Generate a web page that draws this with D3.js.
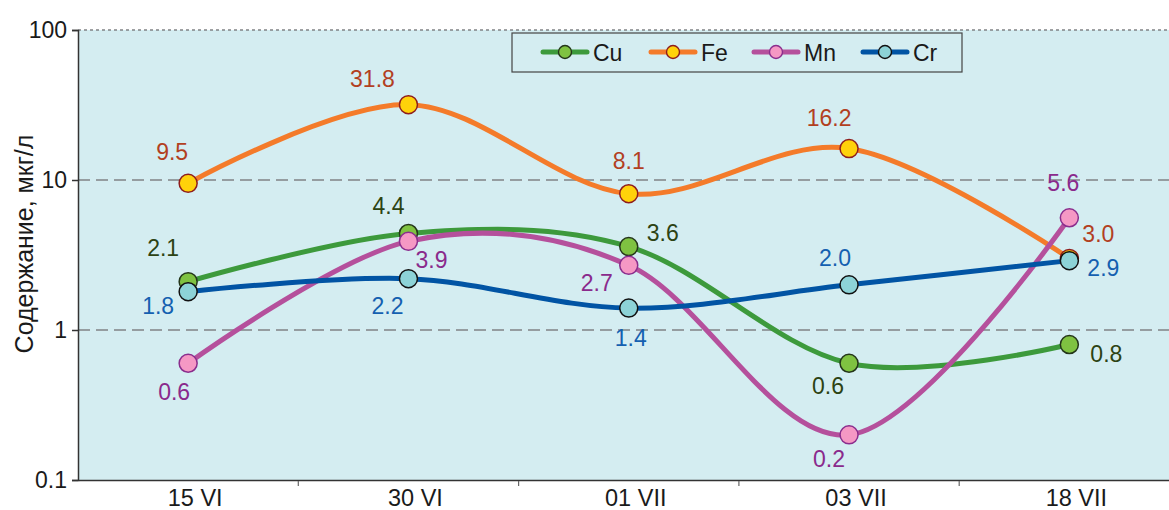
<!DOCTYPE html>
<html>
<head>
<meta charset="utf-8">
<script src="https://cdn.jsdelivr.net/npm/d3@7"></script>
<style>
  html, body { margin: 0; padding: 0; background: #ffffff; }
  svg { display: block; font-family: "Liberation Sans", Arial, sans-serif; }
</style>
</head>
<body>
<svg id="chart" width="1169" height="510"></svg>
<script>
// Sampling dates
const dates = ["15 VI", "30 VI", "01 VII", "03 VII", "18 VII"];

// Metal concentrations, µg/l
const cu = [2.1, 4.4, 3.6, 0.6, 0.8];
const fe = [9.5, 31.8, 8.1, 16.2, 3.0];
const mn = [0.6, 3.9, 2.7, 0.2, 5.6];
const cr = [1.8, 2.2, 1.4, 2.0, 2.9];

const yTicks = [0.1, 1, 10, 100];
const yTitle = "Содержание, мкг/л";

// Label offsets from each point (dx, dy) in px
const cuLabelPos = [[-25, -34], [-20, -27], [34, -14], [-21, 23], [37, 9]];
const feLabelPos = [[-16, -31], [-36, -26], [0, -33], [-20, -31], [29, -24]];
const mnLabelPos = [[-14, 29], [23, 19], [-32, 18], [-20, 24], [-6, -35]];
const crLabelPos = [[-30, 14], [-21, 27], [2, 30], [-14, -27], [34, 7]];

const series = [
  { name: "Cu", values: cu, line: "#3d9a3c", fill: "#7fc241", stroke: "#24361a", label: "#2c4313", pos: cuLabelPos },
  { name: "Fe", values: fe, line: "#f47b2a", fill: "#ffd20a", stroke: "#8e1d1d", label: "#b2401f", pos: feLabelPos },
  { name: "Mn", values: mn, line: "#b5509c", fill: "#f598c4", stroke: "#8a2d8d", label: "#8a2a8c", pos: mnLabelPos },
  { name: "Cr", values: cr, line: "#0154a4", fill: "#8dd3d7", stroke: "#111111", label: "#1460b0", pos: crLabelPos }
];

const svg = d3.select("#chart");
const plotLeft = 78, plotTop = 30, plotBottom = 480, band = 220.3;
const plotRight = 1169;
const textColor = "#1a1a1a";

const x = d3.scaleBand().domain(dates).range([plotLeft, plotLeft + band * dates.length]).paddingInner(0).paddingOuter(0);
const cx = d => x(d) + x.bandwidth() / 2;
const y = d3.scaleLog().domain([0.1, 100]).range([plotBottom, plotTop]);

// Plot background
svg.append("rect")
  .attr("x", plotLeft).attr("y", plotTop)
  .attr("width", plotRight - plotLeft).attr("height", plotBottom - plotTop)
  .attr("fill", "#d4edf1");

// Dashed decade gridlines
svg.append("g").selectAll("line")
  .data([1, 10, 100])
  .join("line")
  .attr("x1", plotLeft).attr("x2", plotRight)
  .attr("y1", d => y(d)).attr("y2", d => y(d))
  .attr("stroke", "#808285")
  .attr("stroke-width", 1.6)
  .attr("stroke-dasharray", d => d === 100 ? "3,3" : "12,6");

// Y axis
const yAxis = svg.append("g")
  .attr("transform", `translate(${plotLeft},0)`)
  .call(d3.axisLeft(y).tickValues(yTicks).tickFormat(d => String(d)).tickSize(6).tickPadding(5));
yAxis.select(".domain").attr("stroke", "#333").attr("stroke-width", 1.5);
yAxis.selectAll(".tick line").attr("stroke", "#333").attr("stroke-width", 1.5);
yAxis.selectAll(".tick text")
  .attr("font-size", 23).attr("fill", textColor)
  .attr("font-family", "Liberation Sans, Arial, sans-serif");

// X axis
const xAxis = svg.append("g")
  .attr("transform", `translate(0,${plotBottom})`)
  .call(d3.axisBottom(x).tickSize(0).tickPadding(9));
xAxis.select(".domain").attr("stroke", "#333").attr("stroke-width", 1.5);
xAxis.selectAll(".tick text")
  .attr("font-size", 23.5).attr("fill", textColor).attr("dx", 7)
  .attr("font-family", "Liberation Sans, Arial, sans-serif");

// Category boundary ticks
xAxis.selectAll(".sep")
  .data(dates.slice(1))
  .join("line")
  .attr("class", "sep")
  .attr("x1", d => x(d)).attr("x2", d => x(d))
  .attr("y1", 1).attr("y2", 6)
  .attr("stroke", "#666").attr("stroke-width", 1.2);

// Y axis title
svg.append("text")
  .attr("transform", `translate(24,244) rotate(-90)`)
  .attr("text-anchor", "middle")
  .attr("dominant-baseline", "central")
  .attr("font-size", 25)
  .attr("fill", textColor)
  .text(yTitle);

// Smoothed lines with markers
const line = d3.line()
  .x((d, i) => cx(dates[i]))
  .y(d => y(d))
  .curve(d3.curveCardinal.tension(0));

series.forEach(s => {
  const g = svg.append("g");
  g.append("path")
    .datum(s.values)
    .attr("d", line)
    .attr("fill", "none")
    .attr("stroke", s.line)
    .attr("stroke-width", 5)
    .attr("stroke-linecap", "round");
  g.selectAll("circle")
    .data(s.values)
    .join("circle")
    .attr("cx", (d, i) => cx(dates[i]))
    .attr("cy", d => y(d))
    .attr("r", 9)
    .attr("fill", s.fill)
    .attr("stroke", s.stroke)
    .attr("stroke-width", 1.5);
});

// Value labels
series.forEach(s => {
  svg.append("g").selectAll("text")
    .data(s.values)
    .join("text")
    .attr("x", (d, i) => cx(dates[i]) + s.pos[i][0])
    .attr("y", (d, i) => y(d) + s.pos[i][1])
    .attr("text-anchor", "middle")
    .attr("dominant-baseline", "central")
    .attr("font-size", 23)
    .attr("fill", s.label)
    .text(d => d3.format(".1f")(d));
});

// Legend
const legend = svg.append("g");
legend.append("rect")
  .attr("x", 512).attr("y", 33)
  .attr("width", 450).attr("height", 39)
  .attr("fill", "#d4edf1")
  .attr("stroke", "#444").attr("stroke-width", 1.2);

const legendX = [543, 651, 754, 863];
series.forEach((s, i) => {
  const lx = legendX[i], ly = 52;
  legend.append("line")
    .attr("x1", lx).attr("x2", lx + 44)
    .attr("y1", ly).attr("y2", ly)
    .attr("stroke", s.line).attr("stroke-width", 5)
    .attr("stroke-linecap", "round");
  legend.append("circle")
    .attr("cx", lx + 22).attr("cy", ly).attr("r", 6.5)
    .attr("fill", s.fill).attr("stroke", s.stroke).attr("stroke-width", 1.4);
  legend.append("text")
    .attr("x", lx + 50).attr("y", ly + 1)
    .attr("dominant-baseline", "central")
    .attr("font-size", 23)
    .attr("fill", textColor)
    .text(s.name);
});
</script>
</body>
</html>
